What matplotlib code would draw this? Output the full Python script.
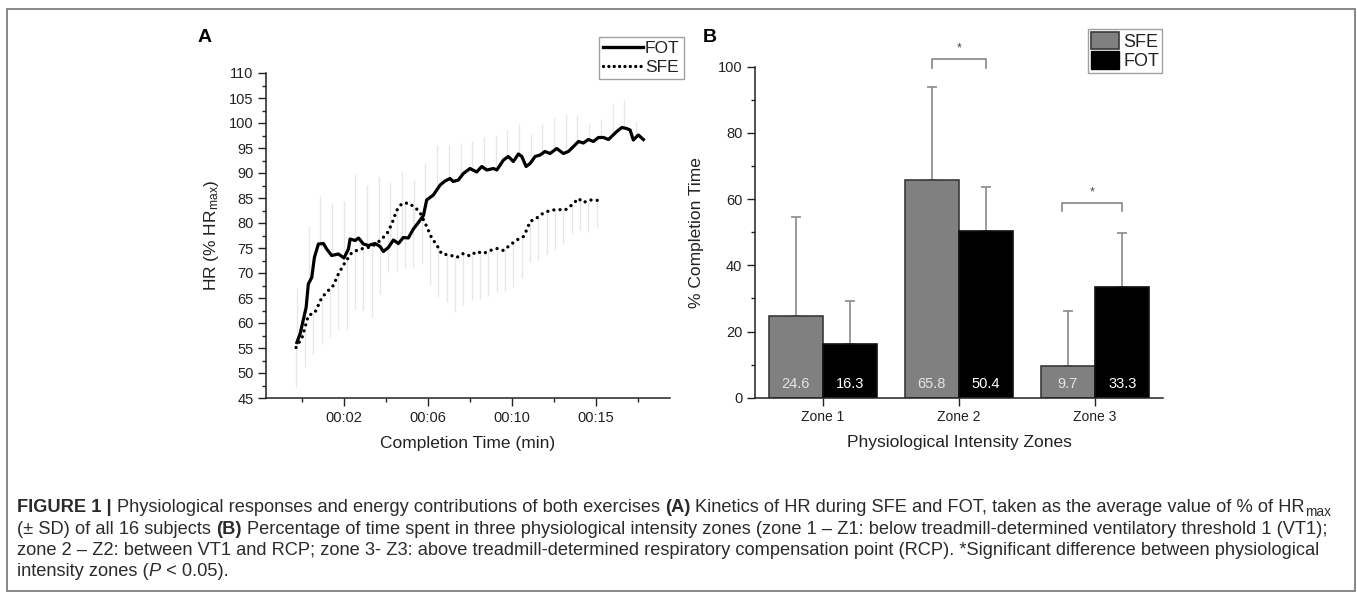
import numpy as np
import matplotlib
matplotlib.use("Agg")
import matplotlib.pyplot as plt
from matplotlib.patches import Rectangle, Patch
from matplotlib.lines import Line2D
from matplotlib import font_manager

# ---- panel A: HR kinetics (% HRmax) ----
fot_t = [-0.26, -0.1, 0.2, 0.31, 0.48, 0.61, 0.81, 1.06, 1.22, 1.47, 1.8, 2.08, 2.3, 2.38,
         2.63, 2.8, 3.04, 3.29, 3.62, 3.87, 4.03, 4.28, 4.53, 4.78, 5.02, 5.27, 5.52, 5.77,
         6.02, 6.18, 6.51, 6.85, 7.09, 7.34, 7.5, 7.75, 8.0, 8.33, 8.66, 8.91, 9.16, 9.49,
         9.66, 9.99, 10.23, 10.48, 10.73, 10.9, 11.11, 11.31, 11.56, 11.81, 12.05, 12.3,
         12.63, 12.96, 13.21, 13.46, 13.71, 13.95, 14.2, 14.45, 14.7, 14.95, 15.2, 15.61,
         15.86, 16.1, 16.27, 16.43, 16.68, 16.93]
fot_hr = [56.1, 57.8, 63.1, 67.8, 69.1, 73.1, 75.8, 75.9, 74.8, 73.5, 73.8, 73.0, 74.8, 76.8,
          76.5, 77.0, 75.8, 75.5, 75.9, 75.3, 74.3, 75.1, 76.6, 75.9, 77.1, 77.0, 78.8, 80.1,
          81.5, 84.6, 85.6, 87.6, 88.4, 88.9, 88.3, 88.6, 89.9, 90.9, 90.2, 91.3, 90.6, 90.9,
          90.6, 92.6, 93.3, 92.3, 93.8, 93.3, 91.3, 91.9, 93.3, 93.6, 94.3, 93.9,
          94.9, 93.9, 94.3, 95.3, 96.3, 96.0, 96.7, 96.3, 97.1, 97.1, 96.7, 98.3,
          99.1, 98.9, 98.6, 96.6, 97.6, 96.7]

sfe_t = [-0.3, 0.0, 0.31, 0.64, 0.98, 1.3, 1.55, 1.8, 2.13, 2.47, 2.88, 3.21, 3.54, 3.87,
         4.2, 4.45, 4.69, 4.95, 5.27, 5.61, 5.85, 6.18, 6.43, 6.68, 6.93, 7.34, 7.67, 8.0,
         8.33, 8.66, 8.99, 9.33, 9.66, 9.99, 10.32, 10.65, 10.98, 11.14, 11.31, 11.64,
         11.97, 12.3, 12.63, 13.05, 13.38, 13.71, 13.95, 14.29, 14.78]
sfe_hr = [55.1, 57.1, 61.5, 62.1, 65.1, 66.5, 67.5, 69.8, 72.1, 74.1, 74.8, 75.0, 75.5, 76.5,
          77.8, 79.8, 82.5, 83.9, 84.0, 83.1, 82.1, 79.3, 77.0, 75.6, 73.8, 73.6, 73.1, 73.9,
          73.4, 74.3, 73.9, 74.5, 74.9, 74.5, 75.6, 76.6, 77.3, 78.6, 80.3, 81.0,
          82.0, 82.5, 82.7, 82.6, 83.6, 84.9, 84.1, 84.6, 84.5]

# SD bars: FOT drawn upward (+SD), SFE drawn downward (-SD)
fot_sd_t = [-0.26, 0.32, 0.90, 1.48, 2.06, 2.64, 3.22, 3.80, 4.38, 4.96, 5.54, 6.12, 6.70,
            7.28, 7.86, 8.44, 9.02, 9.60, 10.18, 10.76, 11.34, 11.92, 12.50, 13.08, 13.66,
            14.24, 14.82, 15.40, 15.98, 16.56]
fot_high = [67.1, 79.5, 85.5, 83.8, 84.5, 89.9, 87.6, 89.3, 88.3, 90.3, 88.6, 92.0, 95.6,
            95.6, 96.0, 96.5, 97.3, 97.6, 98.6, 99.8, 97.9, 99.9, 101.3, 101.9, 101.6,
            99.9, 100.9, 103.9, 104.6, 100.3]
sfe_sd_t = [-0.30, 0.15, 0.56, 0.98, 1.39, 1.80, 2.22, 2.63, 3.04, 3.46, 3.87, 4.28, 4.70,
            5.11, 5.52, 5.94, 6.35, 6.76, 7.18, 7.59, 8.00, 8.42, 8.83, 9.24, 9.66, 10.07,
            10.48, 10.90, 11.31, 11.72, 12.14, 12.55, 12.96, 13.38, 13.79, 14.20, 14.62]
sfe_low = [47.3, 51.3, 53.9, 55.9, 57.3, 58.6, 58.6, 62.9, 62.6, 61.3, 65.9, 70.3, 70.5,
           71.0, 71.3, 71.9, 67.6, 65.3, 64.2, 62.3, 63.6, 64.6, 64.8, 65.5, 66.3, 66.5,
           67.3, 69.0, 72.3, 72.6, 73.8, 74.6, 75.8, 77.9, 78.6, 78.3, 79.3]

time_labels = ["00:02", "00:06", "00:10", "00:15"]

# ---- panel B: % completion time per zone ----
zones = ["Zone 1", "Zone 2", "Zone 3"]
sfe_pct = [24.6, 65.8, 9.7]
fot_pct = [16.3, 50.4, 33.3]
sfe_sd = [30.1, 28.0, 16.6]
fot_sd = [12.9, 13.2, 16.6]

W, H = 1357, 594
names = {f.name for f in font_manager.fontManager.ttflist}
main_font = "Liberation Sans" if "Liberation Sans" in names else "DejaVu Sans"
cap_font = "Liberation Sans Narrow" if "Liberation Sans Narrow" in names else main_font

plt.rcParams["font.family"] = [main_font, "DejaVu Sans"]
plt.rcParams["mathtext.fontset"] = "custom"
plt.rcParams["mathtext.rm"] = main_font
plt.rcParams["mathtext.it"] = main_font + ":italic"
ink = "#222222"

fig = plt.figure(figsize=(W / 100, H / 100), dpi=100)


def fx(px):
    return px / W


def fy(py):
    return 1 - py / H


def style_axes(ax):
    for s in ["top", "right"]:
        ax.spines[s].set_visible(False)
    for s in ["left", "bottom"]:
        ax.spines[s].set_color(ink)
        ax.spines[s].set_linewidth(1.1)
    ax.tick_params(which="both", direction="out", color=ink, labelcolor=ink, width=1.0)
    ax.tick_params(which="major", length=5.5, labelsize=10.5)
    ax.tick_params(which="minor", length=3)


# ---------------- panel A ----------------
axA = fig.add_axes([fx(266), fy(398), fx(670) - fx(266), fy(73) - fy(398)])
style_axes(axA)

fot_base = np.interp(fot_sd_t, fot_t, fot_hr)
sfe_base = np.interp(sfe_sd_t, sfe_t, sfe_hr)
axA.vlines(fot_sd_t, fot_base, fot_high, color="#e6e6e6", lw=0.9, zorder=1)
axA.vlines(sfe_sd_t, sfe_low, sfe_base, color="#e6e6e6", lw=0.9, zorder=1)

axA.plot(fot_t, fot_hr, color="black", lw=2.3, zorder=3, solid_joinstyle="round")
axA.plot(sfe_t, sfe_hr, color="black", lw=2.4, ls=(0, (0.01, 1.85)),
         dash_capstyle="round", zorder=3)

axA.set_xlim(-1.79, 18.25)
axA.set_ylim(45, 110)
axA.set_yticks(np.arange(45, 111, 5))
axA.set_yticks(np.arange(47.5, 110, 5), minor=True)
axA.set_xticks((np.arange(4) * 250 + 125) / 60)
axA.set_xticklabels(time_labels)
axA.set_xticks(np.arange(5) * 250 / 60, minor=True)
axA.set_xlabel("Completion Time (min)", fontsize=12.5, color=ink, labelpad=8)
axA.set_ylabel(r"HR (% HR$_{\rm max}$)", fontsize=12.5, color=ink, labelpad=6)

legA = axA.legend(
    handles=[Line2D([], [], color="black", lw=2.4),
             Line2D([], [], color="black", lw=2.4, ls=(0, (0.01, 1.6)), dash_capstyle="round")],
    labels=["FOT", "SFE"], loc="upper left", bbox_to_anchor=(fx(599), fy(37)),
    bbox_transform=fig.transFigure, fontsize=12.5, frameon=True, fancybox=False,
    handlelength=2.3, handletextpad=0.1, borderpad=0.25, labelspacing=0.2, borderaxespad=0)
legA.get_frame().set_edgecolor("#888888")
legA.get_frame().set_linewidth(1.0)
for txt in legA.get_texts():
    txt.set_color(ink)

fig.text(fx(205), fy(37), "A", fontsize=14, fontweight="bold", ha="center", va="center",
         color="black")

# ---------------- panel B ----------------
axB = fig.add_axes([fx(755), fy(397.7), fx(1163) - fx(755), fy(66.7) - fy(397.7)])
style_axes(axB)
xpos = np.arange(1, len(zones) + 1)
w = 0.4
axB.bar(xpos - w / 2, sfe_pct, w, color="#808080", edgecolor="#3a3a3a", lw=1.2, zorder=2)
axB.bar(xpos + w / 2, fot_pct, w, color="black", edgecolor="#111111", lw=1.2, zorder=2)
axB.errorbar(xpos - w / 2, sfe_pct, yerr=[np.zeros(3), sfe_sd], fmt="none", ecolor="#8a8a8a",
             elinewidth=1.2, capsize=3.5, capthick=1.2, zorder=1)
axB.errorbar(xpos + w / 2, fot_pct, yerr=[np.zeros(3), fot_sd], fmt="none", ecolor="#8a8a8a",
             elinewidth=1.2, capsize=3.5, capthick=1.2, zorder=1)
for i in range(len(zones)):
    axB.text(xpos[i] - w / 2, 4, f"{sfe_pct[i]}", ha="center", va="center", fontsize=10.5,
             color="#e4e4e4", zorder=4)
    axB.text(xpos[i] + w / 2, 4, f"{fot_pct[i]}", ha="center", va="center", fontsize=10.5,
             color="white", zorder=4)

axB.set_xlim(0.5, 3.5)
axB.set_ylim(0, 100)
axB.set_yticks(np.arange(0, 101, 20))
axB.set_yticks(np.arange(10, 100, 20), minor=True)
axB.set_xticks(xpos)
axB.set_xticklabels(zones, fontsize=10)
axB.set_xlabel("Physiological Intensity Zones", fontsize=12.5, color=ink, labelpad=8)
axB.set_ylabel("% Completion Time", fontsize=12.5, color=ink, labelpad=10)

# significance brackets
sig = [(1.8, 2.2, 99.5, 102.2, 105.5), (2.76, 3.2, 56.5, 58.7, 62.0)]
for x0, x1, ylo, yhi, ys in sig:
    axB.plot([x0, x0, x1, x1], [ylo, yhi, yhi, ylo], color="#7a7a7a", lw=1.1, clip_on=False)
    axB.text((x0 + x1) / 2, ys, "*", ha="center", va="center", fontsize=9, color="#444444",
             clip_on=False)

legB = axB.legend(
    handles=[Patch(facecolor="#808080", edgecolor="#3a3a3a", lw=1.2),
             Patch(facecolor="black", edgecolor="black")],
    labels=["SFE", "FOT"], loc="upper left", bbox_to_anchor=(fx(1088), fy(29)),
    bbox_transform=fig.transFigure, fontsize=13, frameon=True, fancybox=False,
    handlelength=1.55, handleheight=1.1, handletextpad=0.25, borderpad=0.15,
    labelspacing=0.05, borderaxespad=0)
legB.get_frame().set_edgecolor("#888888")
legB.get_frame().set_linewidth(1.0)
for txt in legB.get_texts():
    txt.set_color(ink)

fig.text(fx(710), fy(37), "B", fontsize=14, fontweight="bold", ha="center", va="center",
         color="black")

# ---------------- caption ----------------
fig.patches.append(Rectangle((fx(7), fy(591)), fx(1355) - fx(7), fy(9) - fy(591),
                             transform=fig.transFigure, fill=False, ec="#7f7f7f", lw=1.3))

renderer = fig.canvas.get_renderer()
cap_color = "#2b2b2b"


def draw_runs(x_px, y_px, parts, size):
    made = []
    sp = fig.text(0, 0, "a a", fontsize=size, family=cap_font)
    sq = fig.text(0, 0, "aa", fontsize=size, family=cap_font)
    space_w = sp.get_window_extent(renderer).width - sq.get_window_extent(renderer).width
    sp.remove()
    sq.remove()
    for s, st in parts:
        if s == " ":
            x_px += space_w
            continue
        kw = dict(fontsize=size, family=cap_font, color=cap_color, va="baseline", ha="left")
        yy = y_px
        if st == "b":
            kw["fontweight"] = "bold"
        elif st == "i":
            kw["style"] = "italic"
        elif st == "sub":
            kw["fontsize"] = size * 0.75
            yy = y_px + size * 0.3
        t = fig.text(fx(x_px), fy(yy), s, **kw)
        made.append(t)
        x_px += t.get_window_extent(renderer).width
    return x_px, made


line1 = [("FIGURE 1 |", "b"), (" ", ""),
         ("Physiological responses and energy contributions of both exercises", "r"), (" ", ""),
         ("(A)", "b"), (" ", ""),
         ("Kinetics of HR during SFE and FOT, taken as the average value of % of HR", "r"),
         ("max", "sub")]
line2 = [("(\u00b1 SD) of all 16 subjects", "r"), (" ", ""), ("(B)", "b"), (" ", ""),
         ("Percentage of time spent in three physiological intensity zones (zone 1 \u2013 Z1: "
          "below treadmill-determined ventilatory threshold 1 (VT1);", "r")]
line3 = [("zone 2 \u2013 Z2: between VT1 and RCP; zone 3- Z3: above treadmill-determined "
          "respiratory compensation point (RCP). *Significant difference between physiological",
          "r")]
line4 = [("intensity zones (", "r"), ("P", "i"), (" < 0.05).", "r")]

x0 = 17
end, tmp = draw_runs(x0, 512, line1, 12)
for t in tmp:
    t.remove()
size = 12 * (1333 - x0) / (end - x0)
for k, ln in enumerate([line1, line2, line3, line4]):
    draw_runs(x0, 512 + 21.5 * k, ln, size)

fig.savefig("out.png", dpi=100)
